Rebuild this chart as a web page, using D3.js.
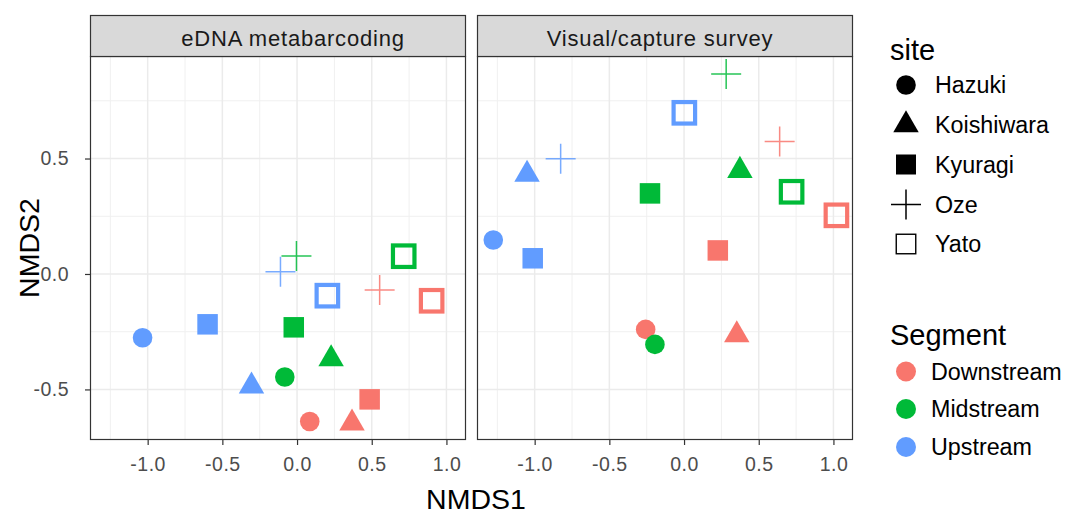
<!DOCTYPE html>
<html>
<head>
<meta charset="utf-8">
<script src="https://cdn.jsdelivr.net/npm/d3@7"></script>
<style>
  html, body { margin: 0; padding: 0; background: #fff; }
  svg { display: block; font-family: "Liberation Sans", Arial, Helvetica, sans-serif; }
</style>
</head>
<body>
<svg id="chart" width="1069" height="514"></svg>
<script>
// ---------------- data ----------------
const methods = ["eDNA metabarcoding", "Visual/capture survey"];
const sites = ["Hazuki", "Koishiwara", "Kyuragi", "Oze", "Yato"];
const segments = ["Downstream", "Midstream", "Upstream"];
const segmentColors = ["#F8766D", "#00BA38", "#619CFF"];

// one entry per sample (site x segment)
const pointSite = ["Hazuki","Hazuki","Hazuki","Koishiwara","Koishiwara","Koishiwara",
                   "Kyuragi","Kyuragi","Kyuragi","Oze","Oze","Oze","Yato","Yato","Yato"];
const pointSegment = ["Downstream","Midstream","Upstream","Downstream","Midstream","Upstream",
                      "Downstream","Midstream","Upstream","Downstream","Midstream","Upstream",
                      "Downstream","Midstream","Upstream"];

const ednaNMDS1 = [0.085, -0.082, -1.034, 0.368, 0.228, -0.305, 0.486, -0.022, -0.599, 0.553, -0.004, -0.111, 0.901, 0.714, 0.203];
const ednaNMDS2 = [-0.639, -0.446, -0.276, -0.646, -0.368, -0.486, -0.543, -0.231, -0.218, -0.069, 0.078, 0.010, -0.116, 0.077, -0.094];

const visualNMDS1 = [-0.257, -0.195, -1.277, 0.353, 0.374, -1.051, 0.226, -0.228, -1.013, 0.640, 0.282, -0.826, 1.020, 0.720, 0.002];
const visualNMDS2 = [-0.240, -0.305, 0.147, -0.264, 0.448, 0.431, 0.102, 0.349, 0.068, 0.574, 0.866, 0.499, 0.254, 0.356, 0.698];

const xTicks = [-1.0, -0.5, 0.0, 0.5, 1.0];
const xMinor = [-1.25, -0.75, -0.25, 0.25, 0.75];
const yTicks = [-0.5, 0.0, 0.5];
const yMinor = [-0.25, 0.25, 0.75];

const xDomain = [-1.386, 1.131];
const yDomain = [-0.719, 0.944];

// ---------------- layout ----------------
const svg = d3.select("#chart");
const panelTop = 56, panelBottom = 440, stripTop = 15;
const panelW = 376;
const panelLefts = [90, 477];
const stripTextX = [293, 660];

const y = d3.scaleLinear().domain(yDomain).range([panelBottom, panelTop]);
const color = d3.scaleOrdinal().domain(segments).range(segmentColors);
const fmt = d => d3.format(".1f")(d).replace("\u2212", "-");

const seriesX = [ednaNMDS1, visualNMDS1];
const seriesY = [ednaNMDS2, visualNMDS2];

function drawShape(g, site, cx, cy, col, inLegend) {
  if (site === "Hazuki") {
    g.append("circle").attr("cx", cx).attr("cy", cy).attr("r", 9.8).attr("fill", col);
  } else if (site === "Koishiwara") {
    const r = 14.7, xc = r * Math.sqrt(3) / 2;
    g.append("path")
      .attr("d", `M${cx},${cy - r}L${cx + xc},${cy + r / 2}L${cx - xc},${cy + r / 2}Z`)
      .attr("fill", col);
  } else if (site === "Kyuragi") {
    const s = inLegend ? 20 : 20.5;
    g.append("rect").attr("x", cx - s / 2).attr("y", cy - s / 2)
      .attr("width", s).attr("height", s).attr("fill", col);
  } else if (site === "Oze") {
    const h = 15;
    g.append("path")
      .attr("d", `M${cx - h},${cy}H${cx + h}M${cx},${cy - h}V${cy + h}`)
      .attr("stroke", col).attr("stroke-width", 1.5).attr("fill", "none")
      .attr("opacity", inLegend ? 1 : 0.85);
  } else if (site === "Yato") {
    const sw = inLegend ? 1.4 : 4.2;
    const s = inLegend ? 19.5 : 21.5;
    g.append("rect").attr("x", cx - s / 2).attr("y", cy - s / 2)
      .attr("width", s).attr("height", s).attr("fill", "none")
      .attr("stroke", col).attr("stroke-width", sw);
  }
}

methods.forEach((m, i) => {
  const x0 = panelLefts[i];
  const x = d3.scaleLinear().domain(xDomain).range([x0, x0 + panelW]);
  const g = svg.append("g");

  g.append("rect").attr("x", x0).attr("y", panelTop).attr("width", panelW)
    .attr("height", panelBottom - panelTop).attr("fill", "#fff");

  // minor grid
  g.selectAll(".vmin").data(xMinor).join("line")
    .attr("x1", d => x(d)).attr("x2", d => x(d))
    .attr("y1", panelTop).attr("y2", panelBottom)
    .attr("stroke", "#F0F0F0").attr("stroke-width", 1);
  g.selectAll(".hmin").data(yMinor).join("line")
    .attr("y1", d => y(d)).attr("y2", d => y(d))
    .attr("x1", x0).attr("x2", x0 + panelW)
    .attr("stroke", "#F0F0F0").attr("stroke-width", 1);
  // major grid
  g.selectAll(".vmaj").data(xTicks).join("line")
    .attr("x1", d => x(d)).attr("x2", d => x(d))
    .attr("y1", panelTop).attr("y2", panelBottom)
    .attr("stroke", "#EBEBEB").attr("stroke-width", 1.5);
  g.selectAll(".hmaj").data(yTicks).join("line")
    .attr("y1", d => y(d)).attr("y2", d => y(d))
    .attr("x1", x0).attr("x2", x0 + panelW)
    .attr("stroke", "#EBEBEB").attr("stroke-width", 1.5);

  // points
  const pts = g.append("g");
  pointSite.forEach((s, k) => {
    drawShape(pts, s, x(seriesX[i][k]), y(seriesY[i][k]), color(pointSegment[k]), false);
  });

  // panel border
  g.append("rect").attr("x", x0 + 0.5).attr("y", panelTop + 0.5).attr("width", panelW - 1)
    .attr("height", panelBottom - panelTop - 1).attr("fill", "none")
    .attr("stroke", "#333333").attr("stroke-width", 1.2);

  // strip
  g.append("rect").attr("x", x0 + 0.5).attr("y", stripTop + 0.5).attr("width", panelW - 1)
    .attr("height", panelTop - stripTop).attr("fill", "#D9D9D9")
    .attr("stroke", "#333333").attr("stroke-width", 1.2);
  g.append("text").attr("x", stripTextX[i]).attr("y", 46)
    .attr("text-anchor", "middle").attr("font-size", 22).attr("letter-spacing", 0.8)
    .attr("fill", "#1A1A1A").text(m);

  // x axis
  const xAxis = d3.axisBottom(x).tickValues(xTicks).tickSize(5).tickPadding(12)
    .tickFormat(fmt);
  const ax = svg.append("g").attr("transform", `translate(0,${panelBottom})`)
    .attr("font-size", null).call(xAxis);
  ax.attr("font-size", 19.5).attr("font-family", "Liberation Sans, Arial, sans-serif");
  ax.select(".domain").remove();
  ax.selectAll(".tick line").attr("stroke", "#333333").attr("stroke-width", 1.2);
  ax.selectAll(".tick text").style("font-size", "19.5px").attr("letter-spacing", 0.5)
    .attr("fill", "#4D4D4D").attr("dy", "0.71em");

  if (i === 0) {
    const yAxis = d3.axisLeft(y).tickValues(yTicks).tickSize(5).tickPadding(16)
      .tickFormat(fmt);
    const ay = svg.append("g").attr("transform", `translate(${x0},0)`).call(yAxis);
    ay.attr("font-size", 19.5).attr("font-family", "Liberation Sans, Arial, sans-serif");
    ay.select(".domain").remove();
    ay.selectAll(".tick line").attr("stroke", "#333333").attr("stroke-width", 1.2);
    ay.selectAll(".tick text").style("font-size", "19.5px").attr("letter-spacing", 0.5)
      .attr("fill", "#4D4D4D");
  }
});

// axis titles
svg.append("text").attr("x", 476).attr("y", 509).attr("text-anchor", "middle")
  .attr("font-size", 28.5).attr("fill", "#000").text("NMDS1");
svg.append("text").attr("transform", `translate(39,248) rotate(-90)`)
  .attr("text-anchor", "middle").attr("font-size", 28.5).attr("fill", "#000").text("NMDS2");

// legends
const leg = svg.append("g");
leg.append("text").attr("x", 890).attr("y", 60).attr("font-size", 29).attr("fill", "#000").text("site");
const siteY = [85, 125, 164.5, 204.5, 244];
sites.forEach((s, k) => {
  drawShape(leg, s, 906, siteY[k], "#000", true);
  leg.append("text").attr("x", 935).attr("y", siteY[k]).attr("dy", "0.36em")
    .attr("font-size", 23.3).attr("fill", "#000").text(s);
});

leg.append("text").attr("x", 890).attr("y", 345).attr("font-size", 29).attr("fill", "#000").text("Segment");
const segY = [371.5, 409, 447];
segments.forEach((s, k) => {
  leg.append("circle").attr("cx", 906).attr("cy", segY[k]).attr("r", 10).attr("fill", color(s));
  leg.append("text").attr("x", 931).attr("y", segY[k]).attr("dy", "0.36em")
    .attr("font-size", 23.3).attr("fill", "#000").text(s);
});
</script>
</body>
</html>
